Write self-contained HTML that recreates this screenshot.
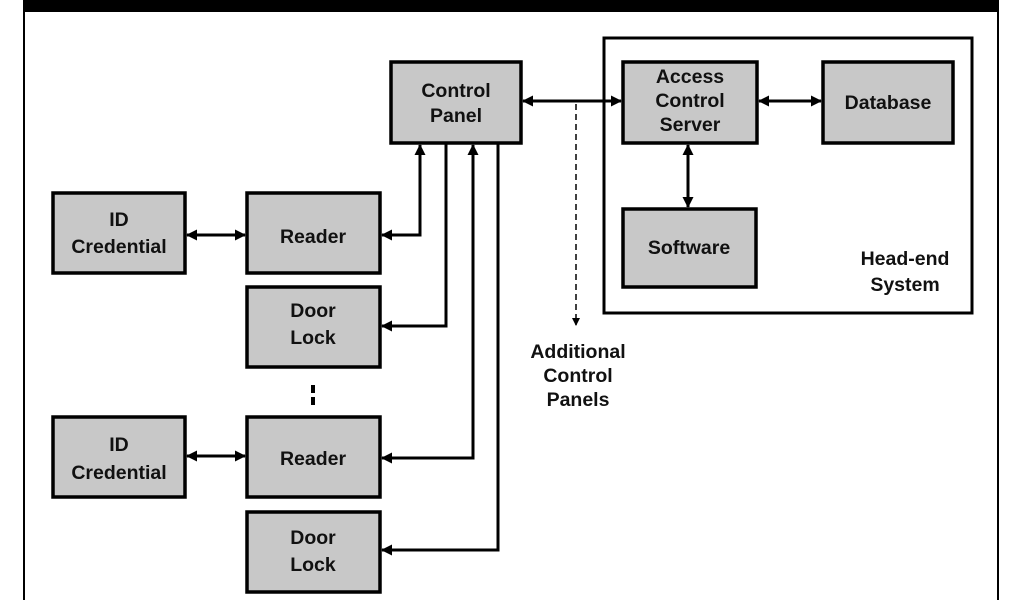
<!DOCTYPE html>
<html><head><style>
html,body{margin:0;padding:0;background:#fff;width:1024px;height:600px;overflow:hidden}
svg text{font-family:"Liberation Sans",sans-serif;font-weight:bold;font-size:19.5px;fill:#111;text-anchor:middle}
</style></head><body>
<svg width="1024" height="600" xmlns="http://www.w3.org/2000/svg">
<defs>
<marker id="a" markerWidth="8" markerHeight="8" refX="7" refY="4" orient="auto-start-reverse" markerUnits="userSpaceOnUse"><path d="M0,0 L8,4 L0,8 z" fill="#000"/></marker>
<marker id="b" markerWidth="11" markerHeight="11" refX="10" refY="5.5" orient="auto-start-reverse" markerUnits="userSpaceOnUse"><path d="M0,0 L11,5.5 L0,11 z" fill="#000"/></marker>
</defs>
<rect x="0" y="0" width="1024" height="600" fill="#fff"/>
<rect x="24" y="0" width="975" height="12" fill="#000"/>
<line x1="24" y1="0" x2="24" y2="600" stroke="#000" stroke-width="2"/>
<line x1="998" y1="0" x2="998" y2="600" stroke="#000" stroke-width="2"/>
<rect x="604" y="38" width="368" height="275" fill="none" stroke="#000" stroke-width="3"/>
<g fill="#c8c8c8" stroke="#000" stroke-width="3.5">
<rect x="391" y="62" width="130" height="81"/>
<rect x="623" y="62" width="134" height="81"/>
<rect x="823" y="62" width="130" height="81"/>
<rect x="623" y="209" width="133" height="78"/>
<rect x="53" y="193" width="132" height="80"/>
<rect x="247" y="193" width="133" height="80"/>
<rect x="247" y="287" width="133" height="80"/>
<rect x="53" y="417" width="132" height="80"/>
<rect x="247" y="417" width="133" height="80"/>
<rect x="247" y="512" width="133" height="80"/>
</g>
<g stroke="#000" stroke-width="3" fill="none">
<line x1="523" y1="101" x2="621" y2="101" marker-start="url(#b)" marker-end="url(#b)"/>
<line x1="759" y1="101" x2="821" y2="101" marker-start="url(#b)" marker-end="url(#b)"/>
<line x1="688" y1="145" x2="688" y2="207" marker-start="url(#b)" marker-end="url(#b)"/>
<line x1="187" y1="235" x2="245" y2="235" marker-start="url(#b)" marker-end="url(#b)"/>
<line x1="187" y1="456" x2="245" y2="456" marker-start="url(#b)" marker-end="url(#b)"/>
<polyline points="420,145 420,235 382,235" marker-start="url(#b)" marker-end="url(#b)"/>
<polyline points="446,143 446,326 382,326" marker-end="url(#b)"/>
<polyline points="473,145 473,458 382,458" marker-start="url(#b)" marker-end="url(#b)"/>
<polyline points="498,143 498,550 382,550" marker-end="url(#b)"/>
</g>
<line x1="576" y1="104" x2="576" y2="325" stroke="#000" stroke-width="1.5" stroke-dasharray="6,4" marker-end="url(#a)"/>
<rect x="311" y="385" width="4" height="8" fill="#000"/>
<rect x="311" y="397" width="4" height="8" fill="#000"/>
<text x="456" y="97">Control</text><text x="456" y="122">Panel</text>
<text x="690" y="83">Access</text><text x="690" y="107">Control</text><text x="690" y="131">Server</text>
<text x="888" y="109">Database</text>
<text x="689" y="254">Software</text>
<text x="905" y="265">Head-end</text><text x="905" y="291">System</text>
<text x="119" y="226">ID</text><text x="119" y="253">Credential</text>
<text x="313" y="243">Reader</text>
<text x="313" y="317">Door</text><text x="313" y="344">Lock</text>
<text x="119" y="451">ID</text><text x="119" y="479">Credential</text>
<text x="313" y="465">Reader</text>
<text x="313" y="544">Door</text><text x="313" y="571">Lock</text>
<text x="578" y="358">Additional</text><text x="578" y="382">Control</text><text x="578" y="406">Panels</text>
</svg>
</body></html>
